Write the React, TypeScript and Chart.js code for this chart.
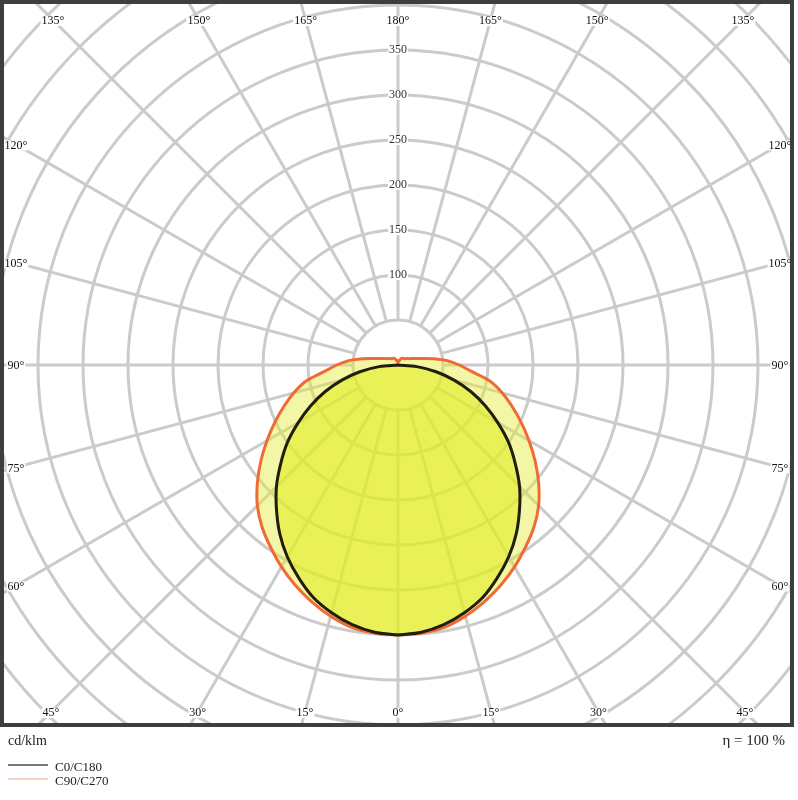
import React, { useEffect, useRef } from 'react';
import { Chart, registerables } from 'chart.js';

Chart.register(...registerables);

// Polar angles (gamma, measured from straight down), degrees
const GAMMA = [0, 5, 10, 15, 20, 25, 30, 35, 40, 45, 50, 55, 60, 65, 70, 75, 80, 85, 90,
  95, 100, 105, 110, 115, 120, 125, 130, 135, 140, 145, 150, 155, 160, 165, 170, 175, 180];

// Luminous intensity, cd/klm
const C0_C180 = [300, 298, 293, 285, 275, 261, 246, 229, 210, 191, 170, 150, 128, 107, 86, 64, 43, 21, 0,
  0, 0, 0, 0, 0, 0, 0, 0, 0, 0, 0, 0, 0, 0, 0, 0, 0, 0];
const C90_C270 = [300, 299, 296, 289, 280, 270, 259, 247, 235, 221, 204, 186, 168, 151, 135, 120, 104, 82, 68,
  55, 40, 28, 21, 17, 14, 12.5, 11, 10, 9.5, 9, 8.5, 7.5, 6, 5, 4, 3.5, 3];

const RING_VALUES = [50, 100, 150, 200, 250, 300, 350, 400, 450, 500, 550, 600, 650];
const RING_LABELS = [100, 150, 200, 250, 300, 350];
const SPOKE_STEP = 15;
const ANGLE_LABELS = [0, 15, 30, 45, 60, 75, 90, 105, 120, 135, 150, 165, 180];

const SERIES_NAMES = ['C0/C180', 'C90/C270'];
const UNIT_LABEL = 'cd/klm';
const EFFICIENCY_LABEL = 'η = 100 %';

const BLACK = '#1f1f0c';
const ORANGE = '#f06a36';
const GRID = '#cbcbcb';
const SERIF = '"Liberation Serif", "Times New Roman", serif';

function toCurve(vals: number[]) {
  const pts: { x: number; y: number }[] = [];
  for (let i = 0; i < GAMMA.length; i++) {
    const g = (GAMMA[i] * Math.PI) / 180;
    pts.push({ x: vals[i] * Math.sin(g), y: -vals[i] * Math.cos(g) });
  }
  for (let i = GAMMA.length - 1; i >= 0; i--) {
    const g = (GAMMA[i] * Math.PI) / 180;
    pts.push({ x: -vals[i] * Math.sin(g), y: -vals[i] * Math.cos(g) });
  }
  return pts;
}

const polarPlugin = {
  id: 'polarDecor',
  beforeDraw(chart: any) {
    const { ctx, chartArea: a, scales } = chart;
    const xs = scales.x, ys = scales.y;
    const cx = xs.getPixelForValue(0);
    const cy = ys.getPixelForValue(0);
    const k = xs.getPixelForValue(1) - cx;
    ctx.save();
    ctx.fillStyle = '#ffffff';
    ctx.fillRect(0, 0, chart.width, chart.height);
    ctx.beginPath();
    ctx.rect(a.left, a.top, a.right - a.left, a.bottom - a.top);
    ctx.clip();
    ctx.strokeStyle = GRID;
    ctx.lineWidth = 3;
    for (const r of RING_VALUES) {
      ctx.beginPath();
      ctx.arc(cx, cy, r * k, 0, Math.PI * 2);
      ctx.stroke();
    }
    const r0 = RING_VALUES[0] * k;
    for (let g = 0; g < 360; g += SPOKE_STEP) {
      const rad = (g * Math.PI) / 180;
      const dx = Math.sin(rad), dy = Math.cos(rad);
      ctx.beginPath();
      ctx.moveTo(cx + dx * r0, cy + dy * r0);
      ctx.lineTo(cx + dx * 2000, cy + dy * 2000);
      ctx.stroke();
    }
    ctx.restore();
  },
  afterDraw(chart: any) {
    const { ctx, chartArea: a, scales } = chart;
    const xs = scales.x, ys = scales.y;
    const cx = xs.getPixelForValue(0);
    const cy = ys.getPixelForValue(0);
    const k = xs.getPixelForValue(1) - cx;
    ctx.save();

    const boxText = (txt: string, x: number, y: number, color: string) => {
      const w = ctx.measureText(txt).width;
      ctx.fillStyle = '#ffffff';
      ctx.fillRect(x - w / 2 - 1, y - 5, w + 2, 10);
      ctx.fillStyle = color;
      ctx.fillText(txt, x, y);
    };

    ctx.font = `12px ${SERIF}`;
    ctx.textAlign = 'center';
    ctx.textBaseline = 'middle';

    // ring value labels along the upward axis
    for (const v of RING_LABELS) {
      boxText(String(v), cx, cy - v * k, '#333');
    }

    // angle labels at the spoke ends
    const L = a.left + 12, R = a.right - 10, T = a.top + 16, B = a.bottom - 11;
    for (const g of ANGLE_LABELS) {
      const sides = g === 0 || g === 180 ? [1] : [-1, 1];
      for (const s of sides) {
        const rad = (g * Math.PI) / 180;
        const dx = s * Math.sin(rad);
        const dy = Math.cos(rad);
        let tx = Infinity, ty = Infinity;
        if (dx < -1e-9) tx = (cx - L) / -dx;
        else if (dx > 1e-9) tx = (R - cx) / dx;
        if (dy > 1e-9) ty = (B - cy) / dy;
        else if (dy < -1e-9) ty = (cy - T) / -dy;
        const t = Math.min(tx, ty);
        boxText(`${g}°`, cx + dx * t, cy + dy * t + 1, '#111');
      }
    }

    // frame
    ctx.strokeStyle = '#3e3e3e';
    ctx.lineWidth = 4;
    ctx.strokeRect(a.left - 2, a.top - 2, a.right - a.left + 4, a.bottom - a.top + 4);

    // texts below
    ctx.fillStyle = '#222';
    ctx.font = `14px ${SERIF}`;
    ctx.textBaseline = 'alphabetic';
    ctx.textAlign = 'left';
    ctx.fillText(UNIT_LABEL, 8, a.bottom + 22);
    ctx.textAlign = 'right';
    ctx.font = `15px ${SERIF}`;
    ctx.fillText(EFFICIENCY_LABEL, a.right - 5, a.bottom + 22);

    // legend
    const legendColors = ['#4a4a4a', '#efc6ae'];
    ctx.font = `13px ${SERIF}`;
    ctx.textAlign = 'left';
    ctx.textBaseline = 'middle';
    SERIES_NAMES.forEach((name, i) => {
      const y = a.bottom + 42 + i * 14;
      ctx.strokeStyle = legendColors[i];
      ctx.lineWidth = 1.5;
      ctx.beginPath();
      ctx.moveTo(8, y);
      ctx.lineTo(48, y);
      ctx.stroke();
      ctx.fillStyle = '#222';
      ctx.fillText(name, 55, y + 3);
    });
    ctx.restore();
  },
};

export default function App() {
  const canvasRef = useRef<HTMLCanvasElement | null>(null);

  useEffect(() => {
    const canvas = canvasRef.current;
    if (!canvas) return;
    const PX = 0.9; // px per cd/klm
    const areaL = 4, areaT = 4, areaR = 790, areaB = 723;
    const cxp = 398, cyp = 365;
    const chart = new Chart(canvas, {
      type: 'line',
      data: {
        datasets: [
          {
            label: SERIES_NAMES[0],
            data: toCurve(C0_C180),
            borderColor: BLACK,
            borderWidth: 3,
            backgroundColor: 'rgba(226, 236, 40, 0.62)',
            fill: 'shape',
            pointRadius: 0,
            tension: 0.35,
          },
          {
            label: SERIES_NAMES[1],
            data: toCurve(C90_C270),
            borderColor: ORANGE,
            borderWidth: 3,
            backgroundColor: 'rgba(226, 236, 40, 0.42)',
            fill: 'shape',
            pointRadius: 0,
            tension: 0.35,
          },
        ],
      },
      options: {
        responsive: false,
        animation: false,
        devicePixelRatio: 1,
        events: [],
        layout: { padding: { left: areaL, top: areaT, right: 798 - areaR, bottom: 800 - areaB } },
        scales: {
          x: {
            type: 'linear',
            display: false,
            min: -(cxp - areaL) / PX,
            max: (areaR - cxp) / PX,
          },
          y: {
            type: 'linear',
            display: false,
            min: -(areaB - cyp) / PX,
            max: (cyp - areaT) / PX,
          },
        },
        plugins: {
          legend: { display: false },
          tooltip: { enabled: false },
          filler: { propagate: false, drawTime: 'beforeDatasetsDraw' },
        } as any,
      },
      plugins: [polarPlugin],
    });
    return () => chart.destroy();
  }, []);

  return (
    <div style={{ position: 'absolute', left: 0, top: 0, width: 798, height: 800, background: '#fff' }}>
      <canvas ref={canvasRef} width={798} height={800} style={{ display: 'block' }} />
    </div>
  );
}
